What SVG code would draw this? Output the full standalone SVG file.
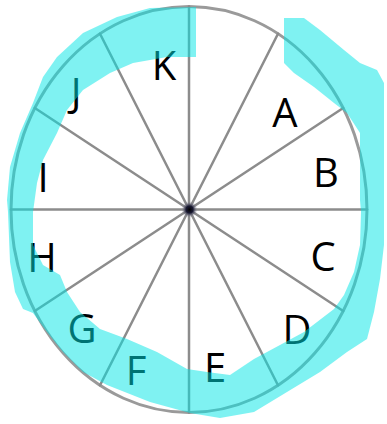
<svg xmlns="http://www.w3.org/2000/svg" width="387" height="424" viewBox="0 0 387 424">
  <defs>
    <style>
      .rim { fill: #ffffff; stroke: #9a9a9a; stroke-width: 3; }
      .spoke { stroke: #8c8c8c; stroke-width: 2.5; stroke-linecap: round; }
      .lbl { font-family: "Open Sans", "Liberation Sans", sans-serif; font-size: 40px; fill: #000000; text-anchor: middle; }
      .band { fill: #00e6e6; fill-opacity: 0.5; stroke: none; }
    </style>
    <radialGradient id="hub">
      <stop offset="0" stop-color="#000000"/>
      <stop offset="0.45" stop-color="#1a1a33"/>
      <stop offset="1" stop-color="#8c8ca0" stop-opacity="0"/>
    </radialGradient>
  </defs>
  <rect width="387" height="424" fill="#ffffff"/>
  <g id="wheel">
    <ellipse class="rim" cx="189" cy="209.5" rx="178" ry="203"/>
    <g id="spokes">
      <line class="spoke" x1="189" y1="6.5" x2="189" y2="412.5"/>
      <line class="spoke" x1="278" y1="33.7" x2="100" y2="385.3"/>
      <line class="spoke" x1="343.2" y1="108" x2="34.8" y2="311"/>
      <line class="spoke" x1="367" y1="209.5" x2="11" y2="209.5"/>
      <line class="spoke" x1="343.2" y1="311" x2="34.8" y2="108"/>
      <line class="spoke" x1="278" y1="385.3" x2="100" y2="33.7"/>
    </g>
    <circle cx="189.5" cy="209.5" r="8" fill="url(#hub)"/>
  </g>
  <g id="K"><text class="lbl" x="164" y="80">K</text></g>
  <g id="A"><text class="lbl" x="285" y="127">A</text></g>
  <g id="B"><text class="lbl" x="326" y="187">B</text></g>
  <g id="C"><text class="lbl" x="323" y="271">C</text></g>
  <g id="D"><text class="lbl" x="297" y="344">D</text></g>
  <g id="E"><text class="lbl" x="215" y="382">E</text></g>
  <g id="F"><text class="lbl" x="136" y="385">F</text></g>
  <g id="G"><text class="lbl" x="82" y="343">G</text></g>
  <g id="H"><text class="lbl" x="42" y="272">H</text></g>
  <g id="I"><text class="lbl" x="43" y="192">I</text></g>
  <g id="J"><text class="lbl" x="76" y="107">J</text></g>
  <path id="highlight" class="band" d="M196,7 L150,8 L117,17 L83,33 L57,57 L43,77 L33,103 L20,133 L10,167 L7,200 L8,212 L10,262 L15,292 L23,309 L33,313 L47,332 L63,352 L83,372 L107,385 L150,402 L190,413 L220,418 L254,412 L287,392 L320,372 L347,352 L367,339 L374,312 L380,279 L384,245 L384,212 L384,83 L377,70 L360,63 L344,50 L320,30 L304,18 L284,18 L284,40 L284,63 L294,73 L314,87 L334,103 L347,113 L360,133 L360,200 L361,212 L360,245 L354,272 L344,295 L334,309 L304,332 L280,345 L254,359 L230,375 L207,372 L187,369 L157,352 L127,339 L100,329 L80,312 L67,292 L60,275 L43,265 L33,245 L33,212 L37,183 L43,160 L57,133 L67,110 L83,90 L110,73 L133,63 L167,57 L196,57 Z"/>
</svg>
